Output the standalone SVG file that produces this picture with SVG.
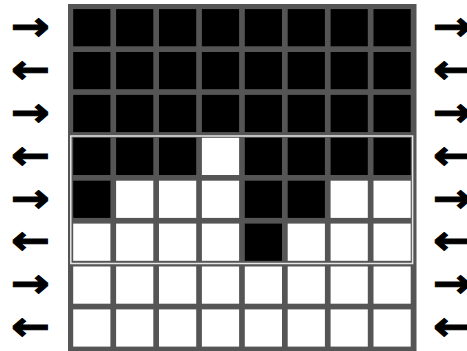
<svg xmlns="http://www.w3.org/2000/svg" width="467" height="351" viewBox="0 0 467 351">
<style>
.b{fill:#000}
.w{fill:#fff}
.arr{font-family:"DejaVu Sans",sans-serif;font-weight:bold;font-size:40px;fill:#000;stroke:#000;stroke-width:1}
</style>
<rect width="467" height="351" fill="#fff"/>
<g id="grid">
<rect x="68" y="4" width="348.5" height="347" fill="#555"/>
<g id="row0" class="b">
<rect x="73.2" y="9.1" width="37.2" height="37.2"/><rect x="116.1" y="9.1" width="37.2" height="37.2"/><rect x="159" y="9.1" width="37.2" height="37.2"/><rect x="201.9" y="9.1" width="37.2" height="37.2"/><rect x="244.8" y="9.1" width="37.2" height="37.2"/><rect x="287.7" y="9.1" width="37.2" height="37.2"/><rect x="330.6" y="9.1" width="37.2" height="37.2"/><rect x="373.5" y="9.1" width="37.2" height="37.2"/>
</g>
<g id="row1" class="b">
<rect x="73.2" y="52" width="37.2" height="37.2"/><rect x="116.1" y="52" width="37.2" height="37.2"/><rect x="159" y="52" width="37.2" height="37.2"/><rect x="201.9" y="52" width="37.2" height="37.2"/><rect x="244.8" y="52" width="37.2" height="37.2"/><rect x="287.7" y="52" width="37.2" height="37.2"/><rect x="330.6" y="52" width="37.2" height="37.2"/><rect x="373.5" y="52" width="37.2" height="37.2"/>
</g>
<g id="row2" class="b">
<rect x="73.2" y="94.9" width="37.2" height="37.2"/><rect x="116.1" y="94.9" width="37.2" height="37.2"/><rect x="159" y="94.9" width="37.2" height="37.2"/><rect x="201.9" y="94.9" width="37.2" height="37.2"/><rect x="244.8" y="94.9" width="37.2" height="37.2"/><rect x="287.7" y="94.9" width="37.2" height="37.2"/><rect x="330.6" y="94.9" width="37.2" height="37.2"/><rect x="373.5" y="94.9" width="37.2" height="37.2"/>
</g>
<g id="row3">
<rect class="b" x="73.2" y="137.8" width="37.2" height="37.2"/><rect class="b" x="116.1" y="137.8" width="37.2" height="37.2"/><rect class="b" x="159" y="137.8" width="37.2" height="37.2"/><rect class="w" x="201.9" y="137.8" width="37.2" height="37.2"/><rect class="b" x="244.8" y="137.8" width="37.2" height="37.2"/><rect class="b" x="287.7" y="137.8" width="37.2" height="37.2"/><rect class="b" x="330.6" y="137.8" width="37.2" height="37.2"/><rect class="b" x="373.5" y="137.8" width="37.2" height="37.2"/>
</g>
<g id="row4">
<rect class="b" x="73.2" y="180.7" width="37.2" height="37.2"/><rect class="w" x="116.1" y="180.7" width="37.2" height="37.2"/><rect class="w" x="159" y="180.7" width="37.2" height="37.2"/><rect class="w" x="201.9" y="180.7" width="37.2" height="37.2"/><rect class="b" x="244.8" y="180.7" width="37.2" height="37.2"/><rect class="b" x="287.7" y="180.7" width="37.2" height="37.2"/><rect class="w" x="330.6" y="180.7" width="37.2" height="37.2"/><rect class="w" x="373.5" y="180.7" width="37.2" height="37.2"/>
</g>
<g id="row5">
<rect class="w" x="73.2" y="223.6" width="37.2" height="37.2"/><rect class="w" x="116.1" y="223.6" width="37.2" height="37.2"/><rect class="w" x="159" y="223.6" width="37.2" height="37.2"/><rect class="w" x="201.9" y="223.6" width="37.2" height="37.2"/><rect class="b" x="244.8" y="223.6" width="37.2" height="37.2"/><rect class="w" x="287.7" y="223.6" width="37.2" height="37.2"/><rect class="w" x="330.6" y="223.6" width="37.2" height="37.2"/><rect class="w" x="373.5" y="223.6" width="37.2" height="37.2"/>
</g>
<g id="row6" class="w">
<rect x="73.2" y="266.5" width="37.2" height="37.2"/><rect x="116.1" y="266.5" width="37.2" height="37.2"/><rect x="159" y="266.5" width="37.2" height="37.2"/><rect x="201.9" y="266.5" width="37.2" height="37.2"/><rect x="244.8" y="266.5" width="37.2" height="37.2"/><rect x="287.7" y="266.5" width="37.2" height="37.2"/><rect x="330.6" y="266.5" width="37.2" height="37.2"/><rect x="373.5" y="266.5" width="37.2" height="37.2"/>
</g>
<g id="row7" class="w">
<rect x="73.2" y="309.4" width="37.2" height="37.2"/><rect x="116.1" y="309.4" width="37.2" height="37.2"/><rect x="159" y="309.4" width="37.2" height="37.2"/><rect x="201.9" y="309.4" width="37.2" height="37.2"/><rect x="244.8" y="309.4" width="37.2" height="37.2"/><rect x="287.7" y="309.4" width="37.2" height="37.2"/><rect x="330.6" y="309.4" width="37.2" height="37.2"/><rect x="373.5" y="309.4" width="37.2" height="37.2"/>
</g>
<rect id="highlight" x="70.8" y="136" width="341.8" height="127.5" fill="none" stroke="#e6e6e6" stroke-width="1.5"/>
</g>
<g id="arrows-left" class="arr">
<text x="11" y="40" textLength="39" lengthAdjust="spacingAndGlyphs">→</text>
<text x="11" y="83" textLength="39" lengthAdjust="spacingAndGlyphs">←</text>
<text x="11" y="126" textLength="39" lengthAdjust="spacingAndGlyphs">→</text>
<text x="11" y="169" textLength="39" lengthAdjust="spacingAndGlyphs">←</text>
<text x="11" y="212" textLength="39" lengthAdjust="spacingAndGlyphs">→</text>
<text x="11" y="254" textLength="39" lengthAdjust="spacingAndGlyphs">←</text>
<text x="11" y="297" textLength="39" lengthAdjust="spacingAndGlyphs">→</text>
<text x="11" y="340" textLength="39" lengthAdjust="spacingAndGlyphs">←</text>
</g>
<g id="arrows-right" class="arr">
<text x="433" y="40" textLength="39" lengthAdjust="spacingAndGlyphs">→</text>
<text x="433" y="83" textLength="39" lengthAdjust="spacingAndGlyphs">←</text>
<text x="433" y="126" textLength="39" lengthAdjust="spacingAndGlyphs">→</text>
<text x="433" y="169" textLength="39" lengthAdjust="spacingAndGlyphs">←</text>
<text x="433" y="212" textLength="39" lengthAdjust="spacingAndGlyphs">→</text>
<text x="433" y="254" textLength="39" lengthAdjust="spacingAndGlyphs">←</text>
<text x="433" y="297" textLength="39" lengthAdjust="spacingAndGlyphs">→</text>
<text x="433" y="340" textLength="39" lengthAdjust="spacingAndGlyphs">←</text>
</g>
</svg>
